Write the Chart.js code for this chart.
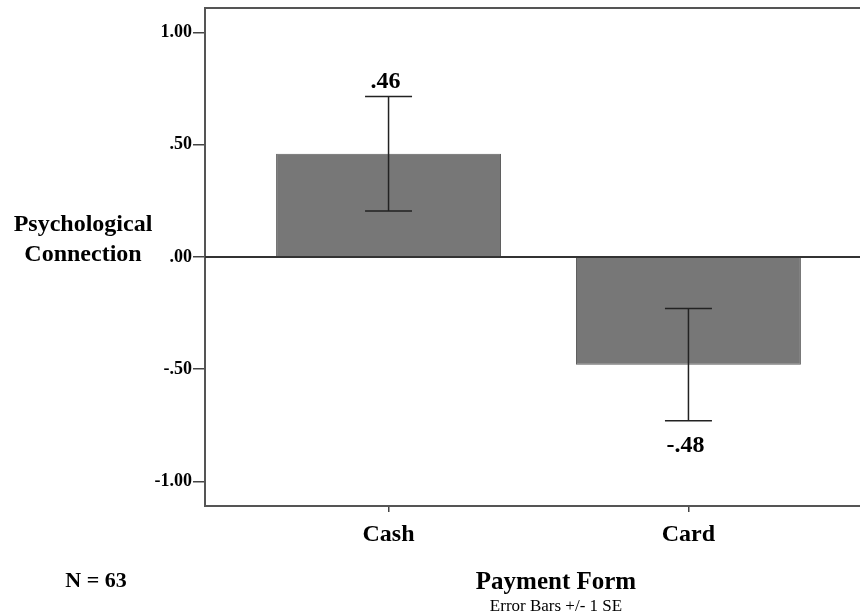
<!DOCTYPE html>
<html>
<head>
<meta charset="utf-8">
<script src="https://cdn.jsdelivr.net/npm/chart.js@4.4.1/dist/chart.umd.min.js"></script>
<style>
  html, body { margin: 0; padding: 0; background: #fff; overflow: hidden; }
  #wrap { width: 860px; height: 616px; }
</style>
</head>
<body>
<div id="wrap"><canvas id="chart" width="860" height="616"></canvas></div>
<script>
// data
const categories = ['Cash', 'Card'];
const means = [0.46, -0.48];
const stdErrors = [0.255, 0.25];
const yTicks = [-1, -0.5, 0, 0.5, 1];

const serif = '"Liberation Serif", "Times New Roman", serif';

function fmt(v) {
    return v.toFixed(2).replace(/^(-?)0\./, '$1.');
}

const errorBars = {
    id: 'errorBars',
    afterDatasetsDraw(chart) {
        const ctx = chart.ctx;
        const xs = chart.scales.x, ys = chart.scales.y;
        ctx.save();
        ctx.strokeStyle = '#222';
        ctx.lineWidth = 1.5;
        ctx.fillStyle = '#000';
        ctx.font = 'bold 24px ' + serif;
        ctx.textAlign = 'center';
        means.forEach(function (m, i) {
            const x = xs.getPixelForValue(i);
            const yHi = ys.getPixelForValue(m + stdErrors[i]);
            const yLo = ys.getPixelForValue(m - stdErrors[i]);
            ctx.beginPath();
            ctx.moveTo(x, yHi); ctx.lineTo(x, yLo);
            ctx.moveTo(x - 23.5, yHi); ctx.lineTo(x + 23.5, yHi);
            ctx.moveTo(x - 23.5, yLo); ctx.lineTo(x + 23.5, yLo);
            ctx.stroke();
            if (m >= 0) {
                ctx.textBaseline = 'alphabetic';
                ctx.fillText(fmt(m), x - 3, yHi - 9);
            } else {
                ctx.textBaseline = 'top';
                ctx.fillText(fmt(m), x - 3, yLo + 13);
            }
        });
        // zero line across the plot
        const y0 = ys.getPixelForValue(0);
        ctx.strokeStyle = '#333';
        ctx.lineWidth = 2;
        ctx.beginPath();
        ctx.moveTo(chart.chartArea.left, y0);
        ctx.lineTo(chart.chartArea.right, y0);
        ctx.stroke();
        ctx.restore();
    },
    afterDraw(chart) {
        const ctx = chart.ctx;
        const a = chart.chartArea;
        ctx.save();
        ctx.strokeStyle = '#555';
        ctx.lineWidth = 2;
        ctx.beginPath();
        ctx.moveTo(a.left, a.top);
        ctx.lineTo(a.right, a.top);
        ctx.stroke();

        ctx.fillStyle = '#000';
        ctx.textAlign = 'center';
        ctx.textBaseline = 'middle';
        ctx.font = 'bold 24px ' + serif;
        ctx.fillText('Psychological', 83, 225);
        ctx.fillText('Connection', 83, 255);
        ctx.font = 'bold 22px ' + serif;
        ctx.fillText('N = 63', 96, 581);
        ctx.font = 'bold 25px ' + serif;
        ctx.fillText('Payment Form', 556, 583);
        ctx.font = '17px ' + serif;
        ctx.fillText('Error Bars +/- 1 SE', 556, 607);
        ctx.restore();
    }
};

new Chart(document.getElementById('chart').getContext('2d'), {
    type: 'bar',
    data: {
        datasets: [{
            label: 'Psychological Connection',
            data: means.map(function (m, i) { return { x: i, y: m }; }),
            backgroundColor: '#777777',
            borderColor: '#5f5f5f',
            borderWidth: 1,
            barPercentage: 0.75,
            categoryPercentage: 1.0
        }]
    },
    options: {
        responsive: false,
        animation: false,
        layout: { padding: { top: 8, left: 0, right: 0, bottom: 0 } },
        plugins: {
            legend: { display: false },
            tooltip: { enabled: false }
        },
        scales: {
            x: {
                type: 'linear',
                offset: false,
                min: -0.612,
                max: 1.572,
                afterBuildTicks: function (scale) {
                    scale.ticks = categories.map(function (c, i) { return { value: i }; });
                },
                afterFit: function (scale) {
                    scale.height = 110;
                    scale.paddingLeft = 0;
                    scale.paddingRight = 0;
                },
                border: { color: '#555', width: 2 },
                grid: { offset: false, drawOnChartArea: false, tickLength: 6, color: '#444', lineWidth: 1.5 },
                ticks: {
                    color: '#000',
                    padding: 8,
                    font: { family: serif, size: 24, weight: 'bold' },
                    callback: function (v) { return categories[v]; }
                }
            },
            y: {
                min: -1.11,
                max: 1.11,
                afterBuildTicks: function (scale) {
                    scale.ticks = yTicks.map(function (v) { return { value: v }; });
                },
                afterFit: function (scale) {
                    scale.width = 205;
                    scale.paddingTop = 0;
                    scale.paddingBottom = 0;
                },
                border: { color: '#555', width: 2 },
                grid: {
                    drawOnChartArea: false,
                    tickLength: 12,
                    tickColor: '#444',
                    lineWidth: 1.5
                },
                ticks: {
                    color: '#000',
                    padding: 1,
                    font: { family: serif, size: 18, weight: 'bold' },
                    callback: function (v) { return fmt(v); }
                }
            }
        }
    },
    plugins: [errorBars]
});
</script>
</body>
</html>
